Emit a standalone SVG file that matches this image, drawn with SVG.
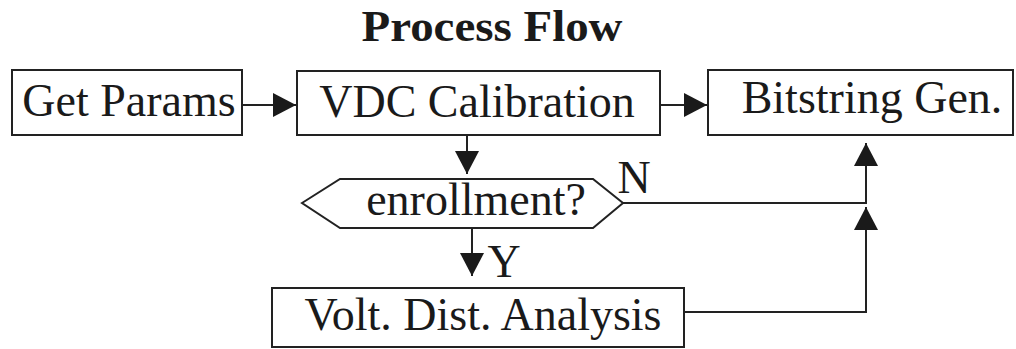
<svg xmlns="http://www.w3.org/2000/svg" width="1016" height="349" viewBox="0 0 1016 349">
<style>
.box{fill:#fff;stroke:#222;stroke-width:2}
.t{font-family:"Liberation Serif","Times New Roman",serif;font-size:46px;fill:#1a1a1a;text-anchor:middle}
.c{fill:none;stroke:#222;stroke-width:2}
.title{font-family:"Liberation Serif","Times New Roman",serif;font-size:45px;font-weight:bold;fill:#1a1a1a;text-anchor:middle}
</style>
<defs>
<marker id="ah" markerUnits="userSpaceOnUse" markerWidth="26" markerHeight="26" refX="23" refY="12" orient="auto">
<path d="M0,0 L23,12 L0,24 z" fill="#1a1a1a"/>
</marker>
</defs>
<rect width="1016" height="349" fill="#fff"/>
<text class="title" x="492" y="41" textLength="261" lengthAdjust="spacingAndGlyphs">Process Flow</text>
<g id="connectors">
<line class="c" x1="242" y1="105" x2="296" y2="105" marker-end="url(#ah)"/>
<line class="c" x1="660" y1="105" x2="707" y2="105" marker-end="url(#ah)"/>
<line class="c" x1="467" y1="135" x2="467" y2="174" marker-end="url(#ah)"/>
<line class="c" x1="472" y1="228" x2="472" y2="276" marker-end="url(#ah)"/>
<path class="c" d="M623,203 H866 V143" marker-end="url(#ah)"/>
<path class="c" d="M684,312 H866 V207" marker-end="url(#ah)"/>
<text class="t" x="634" y="193">N</text>
<text class="t" x="504" y="277">Y</text>
</g>
<g id="get-params">
<rect class="box" x="12" y="70" width="230" height="65"/>
<text class="t" x="129" y="116">Get Params</text>
</g>
<g id="vdc-calibration">
<rect class="box" x="297" y="71" width="363" height="64"/>
<text class="t" x="477" y="117">VDC Calibration</text>
</g>
<g id="bitstring-gen">
<rect class="box" x="708" y="70" width="305" height="65"/>
<text class="t" x="872" y="113">Bitstring Gen.</text>
</g>
<g id="enrollment">
<polygon class="box" points="302,203 340,179 593,179 623,203 593,228 340,228"/>
<text class="t" x="476" y="215">enrollment?</text>
</g>
<g id="volt-dist-analysis">
<rect class="box" x="272" y="288" width="412" height="59"/>
<text class="t" x="483" y="330">Volt. Dist. Analysis</text>
</g>
</svg>
